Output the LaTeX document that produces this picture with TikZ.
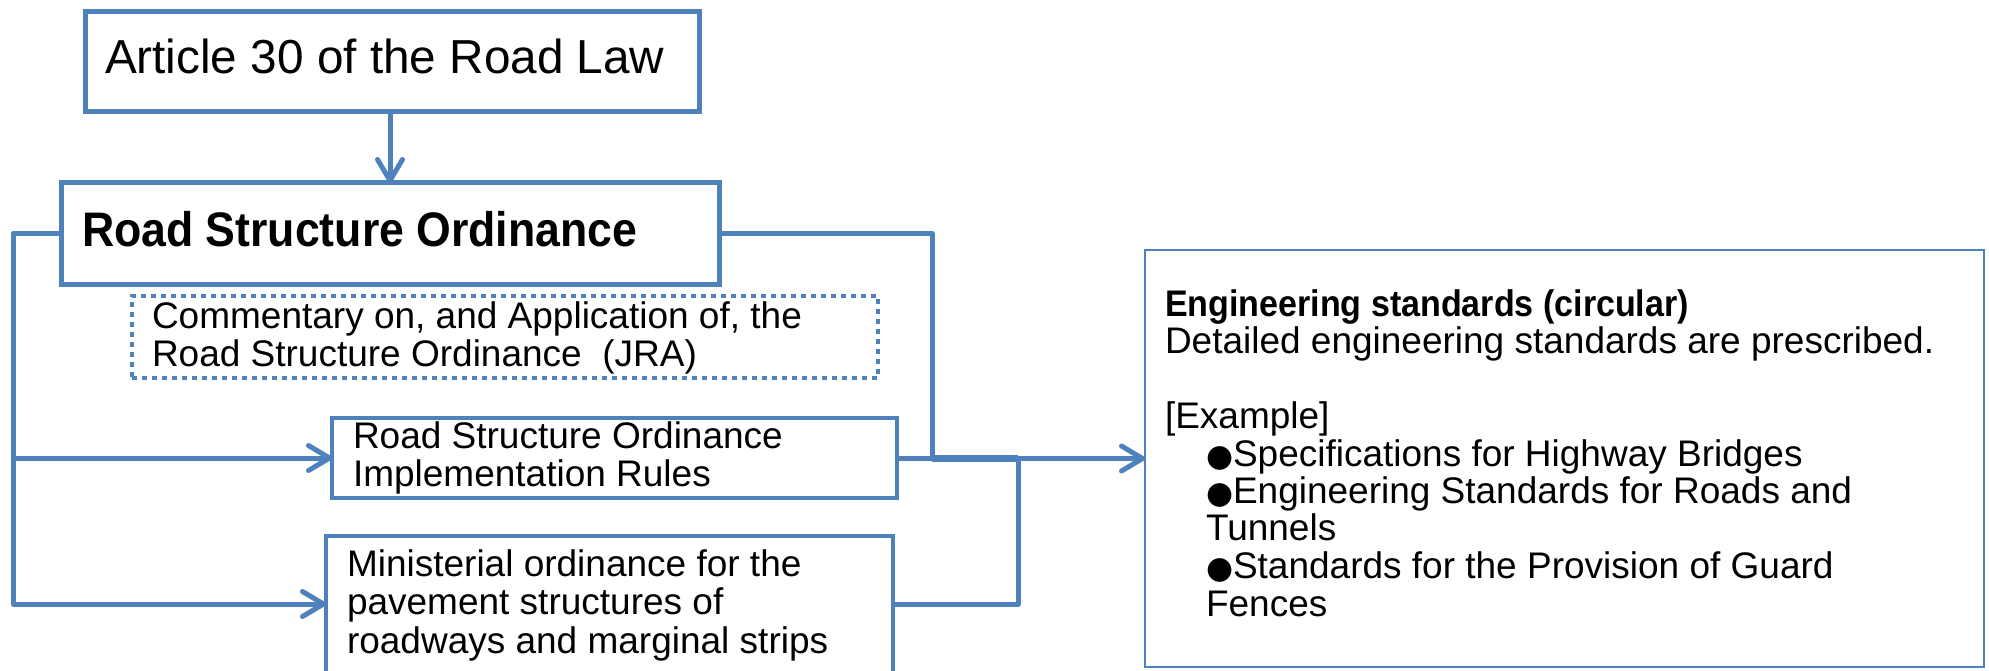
\documentclass[tikz,border=0pt]{standalone}
\usepackage{fontspec}
\setmainfont{Liberation Sans}
\newfontfamily\narrowsans{Liberation Sans}[FakeStretch=0.92]
\newfontfamily\symfont{DejaVu Sans}
\usetikzlibrary{arrows.meta}
\definecolor{lineblue}{RGB}{79,129,189}
% bullet of the example list
\newcommand{\blt}{\makebox[27pt][l]{\fontsize{31}{31}\symfont ●}}

\begin{document}
\begin{tikzpicture}[x=1pt,y=-1pt,
  box/.style={draw=lineblue,line width=5pt,inner sep=0pt,outer sep=0pt},
  thinbox/.style={draw=lineblue,line width=2.8pt,inner sep=0pt,outer sep=0pt},
  dotbox/.style={draw=lineblue,line width=4.2pt,dash pattern=on 5pt off 5pt,inner sep=0pt,outer sep=0pt},
  label/.style={anchor=base west,inner sep=0pt,outer sep=0pt,text=black},
  conn/.style={draw=lineblue,line width=5pt,line join=round},
  arr/.style={conn,-{Straight Barb[length=21pt,width=25pt,round]}}]

\useasboundingbox (0,0) rectangle (1989,671);

% boxes
\node[box,minimum width=614pt,minimum height=100pt] (b1) at (392,62) {};
\node[box,minimum width=658pt,minimum height=101pt] (b2) at (390,233.5) {};
\node[dotbox,minimum width=746pt,minimum height=82pt] (dc) at (505,337) {};
\node[box,line width=4.5pt,minimum width=565pt,minimum height=80pt] (b3) at (614.5,458) {};
\node[box,line width=4.5pt,minimum width=567pt,minimum height=154pt] (b4) at (609.5,613) {};
\node[thinbox,minimum width=839pt,minimum height=417pt] (b5) at (1564.5,458.5) {};

% texts
\node[label] (t1) at (105,74) {\fontsize{47.7}{50}\selectfont Article 30 of the Road Law};
\node[label] (t2) at (82,247) {\fontsize{48.5}{50}\selectfont\narrowsans\bfseries Road Structure Ordinance};
\node[label] (tc) at (152,328) {\parbox[t]{720pt}{\fontsize{37}{38.5}\selectfont
  Commentary on, and Application of, the\\
  Road Structure Ordinance\ \ (JRA)}};
\node[label] (t3) at (353,448) {\parbox[t]{540pt}{\fontsize{37}{38.5}\selectfont
  Road Structure Ordinance\\
  Implementation Rules}};
\node[label] (t4) at (347,576) {\parbox[t]{540pt}{\fontsize{37}{38.5}\selectfont
  Ministerial ordinance for the\\
  pavement structures of\\
  roadways and marginal strips}};
\node[label] (t5) at (1165,316) {\parbox[t]{810pt}{\fontsize{37}{37.5}\selectfont
  {\narrowsans\bfseries Engineering standards (circular)}\\
  Detailed engineering standards are prescribed.\\[37.5pt]
  {[}Example{]}\\
  \hspace*{41pt}\blt Specifications for Highway Bridges\\
  \hspace*{41pt}\blt Engineering Standards for Roads and\\
  \hspace*{41pt}Tunnels\\
  \hspace*{41pt}\blt Standards for the Provision of Guard\\
  \hspace*{41pt}Fences}};

% bus lines
\coordinate (busL) at (13,0);
\coordinate (busR) at (932,0);
\coordinate (busR2) at (1018,0);

% connectors
\draw[arr] (b2.north |- b1.south) -- (b2.north);
\draw[arr] (b2.west) -- (b2.west -| busL) |- ([yshift=9pt]b4.west);
\draw[arr] (busL |- b3.west) -- (b3.west);
\draw[arr] (b2.east) -- (b2.east -| busR) |- (b5.west);
\draw[conn] (b3.east) -- (b3.east -| busR);
\draw[conn] ([yshift=9pt]b4.east) -| (busR2 |- b5.west);
\draw[conn,line width=7pt] (busR |- b5.west) -- (busR2 |- b5.west);
\end{tikzpicture}
\end{document}
